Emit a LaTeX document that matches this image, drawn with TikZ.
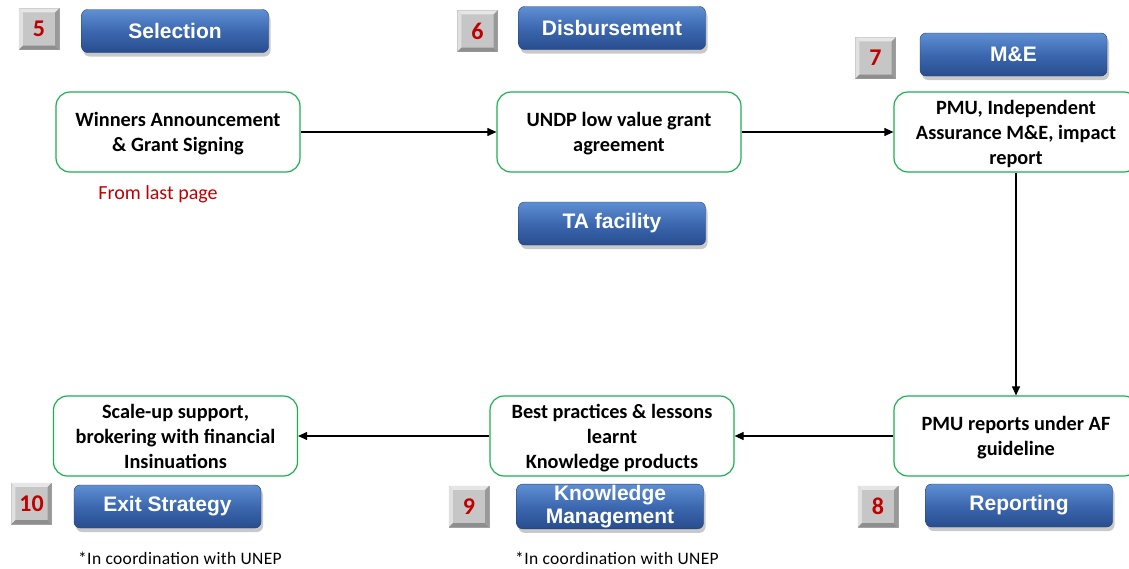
\documentclass[tikz,border=0pt]{standalone}
\usepackage{fontspec}
\setmainfont{Carlito}
\newfontfamily\arialfont{Liberation Sans}
\newfontfamily\notefont[LetterSpace=2]{Carlito}
\usetikzlibrary{shadows,arrows.meta}
\definecolor{boxgreen}{HTML}{1DB052}
\definecolor{numred}{HTML}{C00000}
\definecolor{bluetop}{HTML}{5F8FD3}
\definecolor{bluemid}{HTML}{3C68B0}
\definecolor{bluebot}{HTML}{284D8E}
\definecolor{greyface}{HTML}{C6C6C6}
\definecolor{greylight}{HTML}{E6E6E6}
\definecolor{greydark}{HTML}{8E8E8E}
\tikzset{
  greenbox/.style={draw=boxgreen, line width=1.2pt, rounded corners=14pt, fill=white,
    minimum width=244pt, minimum height=80pt, align=center, inner sep=2pt, text depth=0pt,
    font=\bfseries\fontsize{20.3}{25}\selectfont},
  bluebox/.style={rounded corners=6pt, top color=bluetop, bottom color=bluebot, middle color=bluemid,
    draw=bluebot!80!black, line width=0.4pt,
    drop shadow={shadow xshift=2pt, shadow yshift=-4pt, opacity=0.35, fill=black!60},
    minimum width=187pt, minimum height=43pt, align=center, text=white, inner sep=1pt,
    font=\arialfont\bfseries\fontsize{21}{23}\selectfont},
  numbox/.style={fill=greyface, draw=greydark!80, line width=0.4pt, minimum width=40pt, minimum height=41pt,
    inner sep=0pt},
  conn/.style={draw=black, line width=1.1pt, -{Triangle[length=9pt,width=8pt]}},
  note/.style={font=\notefont\fontsize{17.5}{17.5}\selectfont},
}
\newcommand{\bevelbox}[4]{%
  \node[numbox] (#1) at (#2,#3) {};
  \fill[greylight] (#1.north west) -- (#1.north east) -- ([shift={(-4,4)}]#1.north east) -- ([shift={(4,4)}]#1.north west) -- cycle;
  \fill[greylight!80!greyface] (#1.north west) -- (#1.south west) -- ([shift={(4,-4)}]#1.south west) -- ([shift={(4,4)}]#1.north west) -- cycle;
  \fill[greydark] (#1.south west) -- (#1.south east) -- ([shift={(-4,-4)}]#1.south east) -- ([shift={(4,-4)}]#1.south west) -- cycle;
  \fill[greydark!80!greyface] (#1.north east) -- (#1.south east) -- ([shift={(-4,-4)}]#1.south east) -- ([shift={(-4,4)}]#1.north east) -- cycle;
  \node[text=numred, font=\bfseries\fontsize{24}{24}\selectfont] (#1t) at (#1.center) {#4};
}
\begin{document}
\begin{tikzpicture}[x=1pt,y=-1pt]
\useasboundingbox (0,0) rectangle (1129,568);
\clip (0,0) rectangle (1129,568);
\fill[white] (0,0) rectangle (1129,568);

% number boxes
\bevelbox{n5}{39}{29}{5}
\bevelbox{n6}{477.5}{31}{6}
\bevelbox{n7}{875.5}{58}{7}
\bevelbox{n8}{878}{506.5}{8}
\bevelbox{n9}{469}{506.5}{9}
\bevelbox{n10}{31.5}{503.5}{10}

% blue labels
\node[bluebox] (sel) at (175,31) {Selection};
\node[bluebox] (dis) at (612,28) {Disbursement};
\node[bluebox] (ta) at (612,223.5) {TA facility};
\node[bluebox] (me) at (1013.5,54.5) {M\&E};
\node[bluebox] (rep) at (1019,505.5) {Reporting};
\node[bluebox] (km) at (610,506.5) {Knowledge\\Management};
\node[bluebox] (exit) at (167.5,506.5) {Exit Strategy};

% process boxes
\node[greenbox] (win) at (178,132) {Winners Announcement\\\& Grant Signing};
\node[greenbox] (undp) at (619,132) {UNDP low value grant\\agreement};
\node[greenbox] (pmu) at (1016,132) {PMU, Independent\\Assurance M\&E, impact\\report};
\node[greenbox] (pmur) at (1016,436) {PMU reports under AF\\guideline};
\node[greenbox] (best) at (612,436) {Best practices \& lessons\\learnt\\Knowledge products};
\node[greenbox] (scale) at (175.5,436) {Scale-up support,\\brokering with financial\\Insinuations};

% texts
\node[text=numred, font=\fontsize{20}{20}\selectfont] (last) at (158,194) {From last page};
\node[note] (c1) at (180,558.5) {*In coordination with UNEP};
\node[note] (c2) at (617,558.5) {*In coordination with UNEP};

% connectors
\draw[conn] (win) -- (undp);
\draw[conn] (undp) -- (pmu.west);
\draw[conn] (pmu.south) -- (pmur.north);
\draw[conn] (pmur.west) -- (best);
\draw[conn] (best) -- (scale);
\end{tikzpicture}
\end{document}
